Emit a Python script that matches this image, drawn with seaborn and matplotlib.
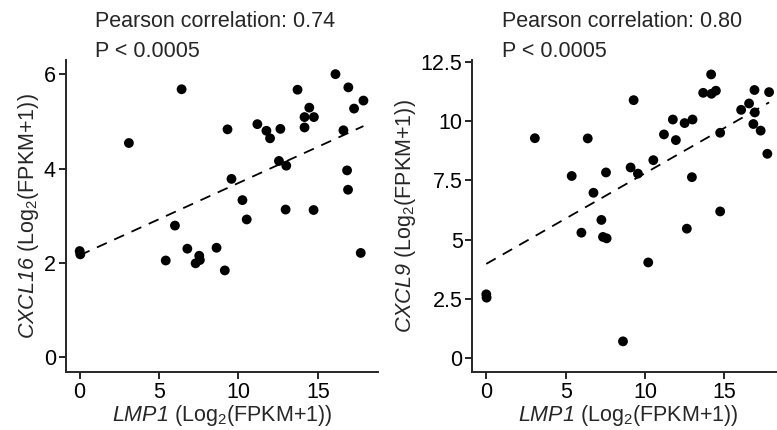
import numpy as np
import pandas as pd
import matplotlib
matplotlib.use("Agg")
import matplotlib.pyplot as plt
import seaborn as sns

# LMP1 vs CXCL16
lmp1_a = [0.0, 0.04, 3.1, 6.42, 5.42, 6.0, 6.78, 7.3, 7.53, 7.57, 8.62, 9.14, 9.31,
          9.56, 10.25, 10.52, 11.19, 11.76, 11.99, 12.64, 12.55, 13.01, 12.97, 13.72,
          14.16, 14.16, 14.46, 14.75, 14.73, 16.11, 16.61, 16.92, 16.84, 16.9, 17.28,
          17.87, 17.7]
cxcl16 = [2.25, 2.18, 4.54, 5.68, 2.05, 2.79, 2.30, 1.99, 2.15, 2.06, 2.32, 1.84, 4.83,
          3.78, 3.33, 2.92, 4.94, 4.80, 4.64, 4.84, 4.16, 4.06, 3.13, 5.67,
          4.87, 5.09, 5.29, 5.09, 3.12, 6.0, 4.81, 5.72, 3.96, 3.55, 5.27,
          5.44, 2.21]

# LMP1 vs CXCL9
lmp1_b = [0.0, 0.02, 3.06, 5.38, 5.99, 6.39, 6.75, 7.25, 7.54, 7.35, 7.58, 8.61, 9.09,
          9.28, 9.55, 10.2, 10.52, 11.19, 11.75, 11.94, 12.49, 12.99, 12.95, 12.63,
          13.66, 14.16, 14.18, 14.46, 14.73, 14.73, 16.05, 16.55, 16.89, 16.91, 16.82,
          17.28, 17.7, 17.81]
cxcl9 = [2.68, 2.54, 9.29, 7.69, 5.29, 9.28, 6.98, 5.83, 7.84, 5.11, 5.05, 0.69, 8.05,
         10.9, 7.79, 4.03, 8.36, 9.45, 10.08, 9.21, 9.93, 10.08, 7.64, 5.46,
         11.21, 11.99, 11.17, 11.3, 9.52, 6.19, 10.49, 10.76, 11.33, 10.38, 9.89,
         9.61, 8.63, 11.24]

yticks_a = [0, 2, 4, 6]
yticks_b = [0, 2.5, 5, 7.5, 10, 12.5]
ytick_labels_b = ["0", "2.5", "5", "7.5", "10", "12.5"]
xticks = [0, 5, 10, 15]
stats_a = ["Pearson correlation: 0.74", "P < 0.0005"]
stats_b = ["Pearson correlation: 0.80", "P < 0.0005"]

df_a = pd.DataFrame({"LMP1": lmp1_a, "CXCL16": cxcl16})
df_b = pd.DataFrame({"LMP1": lmp1_b, "CXCL9": cxcl9})

sns.set_style("ticks")
plt.rcParams["font.family"] = ["Liberation Sans", "DejaVu Sans"]
# italic gene names (digits too) via the sans-serif mathtext slot
plt.rcParams["mathtext.fontset"] = "custom"
plt.rcParams["mathtext.rm"] = "Liberation Sans"
plt.rcParams["mathtext.it"] = "Liberation Sans:italic"
plt.rcParams["mathtext.sf"] = "Liberation Sans:italic"
plt.rcParams["axes.linewidth"] = 1.4

fig = plt.figure(figsize=(7.77, 4.30), dpi=100)
W, H = 777, 430
ax1 = fig.add_axes([65.7 / W, (H - 372.3) / H, 312.5 / W, 312.3 / H])
ax2 = fig.add_axes([472.3 / W, (H - 372.3) / H, 312.5 / W, 312.3 / H])

fs = 15.5

def draw(ax, df, ycol, ylim, yticks, yticklabels, ylabel, stats):
    sns.regplot(data=df, x="LMP1", y=ycol, ax=ax, ci=None,
                scatter_kws=dict(s=50, color="black", edgecolor="none", alpha=1),
                line_kws=dict(color="black", lw=1.3, ls=(0, (6, 4.5))))
    ax.set_xlim(-0.88, 18.8)
    ax.set_ylim(*ylim)
    ax.set_xticks(xticks)
    ax.set_yticks(yticks)
    ax.set_yticklabels(yticklabels)
    ax.tick_params(length=5, width=1.2, pad=2, labelsize=fs, colors="black")
    ax.set_xlabel(r"$\mathsf{LMP1}$ (Log$_2$(FPKM+1))", fontsize=fs, labelpad=0)
    ax.set_ylabel(ylabel, fontsize=fs, labelpad=2)
    sns.despine(ax=ax)
    ax.text(0.094, 1.106, stats[0], transform=ax.transAxes, fontsize=fs,
            va="baseline", ha="left", clip_on=False)
    ax.text(0.094, 1.009, stats[1], transform=ax.transAxes, fontsize=fs,
            va="baseline", ha="left", clip_on=False)

draw(ax1, df_a, "CXCL16", (-0.32, 6.3), yticks_a, [str(t) for t in yticks_a],
     r"$\mathsf{CXCL16}$ (Log$_2$(FPKM+1))", stats_a)
draw(ax2, df_b, "CXCL9", (-0.62, 12.6), yticks_b, ytick_labels_b,
     r"$\mathsf{CXCL9}$ (Log$_2$(FPKM+1))", stats_b)

fig.savefig("out.png", dpi=100)
